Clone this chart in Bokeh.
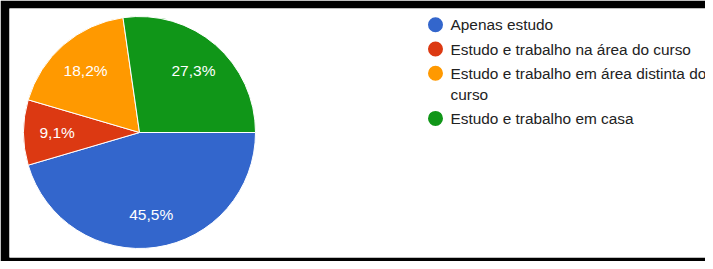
import numpy as np
from bokeh.plotting import figure
from bokeh.models import Range1d, ColumnDataSource
from bokeh.core.properties import value
from bokeh.embed import file_html
from bokeh.resources import INLINE

# ---- data ----
categories = [
    "Apenas estudo",
    "Estudo e trabalho na área do curso",
    "Estudo e trabalho em área distinta do\ncurso",
    "Estudo e trabalho em casa",
]
percentages = [45.5, 9.1, 18.2, 27.3]
colors = ["#3366cc", "#dc3912", "#ff9900", "#109618"]

FONT = value("Liberation Sans")

# ---- layout ----
W, H = 705, 261
BL, BT, BB, BR = 9, 8, 4, 0
FW, FH = W - BL - BR, H - BT - BB

p = figure(width=W, height=H, x_range=Range1d(0, FW), y_range=Range1d(0, FH),
           output_backend="svg", toolbar_location=None,
           x_axis_type=None, y_axis_type=None,
           min_border_left=BL, min_border_right=BR,
           min_border_top=BT, min_border_bottom=BB,
           border_fill_color="black", background_fill_color="white",
           outline_line_color=None)
p.grid.visible = False

# pie geometry (frame pixel units)
cx, cy, R = 130, 125, 116
vals = np.array(percentages, dtype=float)
frac = vals / vals.sum() * 2 * np.pi
cw_end = np.cumsum(frac)
cw_start = cw_end - frac

src = ColumnDataSource(dict(
    start=-cw_end, end=-cw_start, color=colors,
))
p.wedge(x=cx, y=cy, radius=R, radius_units="screen",
        start_angle="start", end_angle="end",
        fill_color="color", line_color="white", line_width=1, source=src)

mid = -(cw_start + cw_end) / 2
f = 0.71
lab_src = ColumnDataSource(dict(
    x=cx + f * R * np.cos(mid),
    y=cy + f * R * np.sin(mid),
    t=[f"{v:.1f}".replace(".", ",") + "%" for v in percentages],
))
p.text(x="x", y="y", text="t", source=lab_src, text_color="white",
       text_font=FONT, text_font_size="15.5px",
       text_align="center", text_baseline="middle")

# legend
row_h, extra_h = 24.2, 21
y0 = 32.3 - 16
leg_x, txt_x = 426, 441
cy_list, tx, ty, tt = [], [], [], []
extra = 0
for i, lab in enumerate(categories):
    yy = y0 + i * row_h + extra * extra_h
    cy_list.append(FH - yy)
    for j, line in enumerate(lab.split("\n")):
        tx.append(txt_x)
        ty.append(FH - (yy + j * extra_h))
        tt.append(line)
    extra += lab.count("\n")

p.scatter(x=[leg_x] * len(categories), y=cy_list, size=15, marker="circle",
          fill_color=colors, line_color=None)
p.text(x=tx, y=ty, text=tt, text_color="#222222", text_font=FONT,
       text_font_size="15.4px", text_align="left", text_baseline="middle")

open("out.html", "w").write(file_html(p, INLINE))
